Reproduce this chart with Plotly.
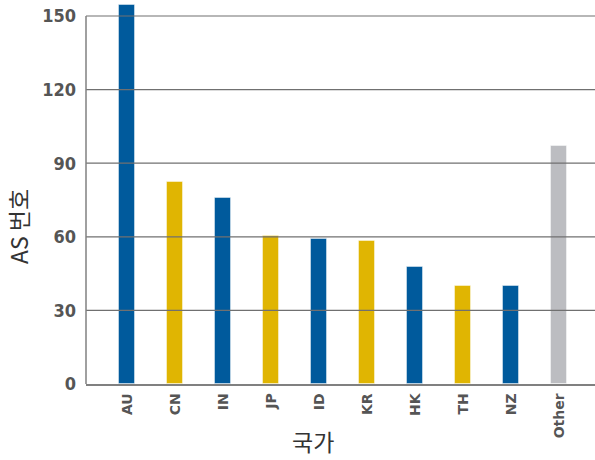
import plotly.graph_objects as go

categories = ["AU", "CN", "IN", "JP", "ID", "KR", "HK", "TH", "NZ", "Other"]
values = [154.4, 82.3, 75.8, 60.2, 59.2, 58.1, 47.5, 40, 40, 97]
colors = ["#005A9C", "#E0B502", "#005A9C", "#E0B502", "#005A9C",
          "#E0B502", "#005A9C", "#E0B502", "#005A9C", "#BCBDC1"]
yticks = [0, 30, 60, 90, 120, 150]

W, H = 595, 460
L, B = 86, 76            # plot area left edge / bottom margin (px)
ZERO_Y = H - B           # pixel row of y=0
PX_PER_UNIT = 368 / 150  # pixels per data unit
YMAX = ZERO_Y / PX_PER_UNIT

fig = go.Figure()
fig.add_trace(go.Bar(
    x=categories, y=values,
    marker=dict(color=colors, line=dict(color="rgba(255,255,255,0.45)", width=1)),
    width=0.32, showlegend=False,
))

# gridlines drawn above the bars
for v in yticks[1:]:
    fig.add_shape(type="line", xref="paper", yref="y", x0=0, x1=1, y0=v, y1=v,
                  line=dict(color="#707070", width=1.2), layer="above")
# left axis line only up to the top tick
fig.add_shape(type="line", xref="paper", yref="y", x0=0, x1=0, y0=0, y1=yticks[-1],
              line=dict(color="#808080", width=1.5), layer="above")

fig.update_layout(
    width=W, height=H,
    margin=dict(l=L, r=0, t=0, b=B, autoexpand=False),
    plot_bgcolor="white", paper_bgcolor="white",
    bargap=0,
    xaxis=dict(
        range=[-0.854, 9.75], showgrid=False, automargin=False,
        showline=True, linecolor="#808080", linewidth=1.5,
        tickangle=-90, ticks="", ticklabelstandoff=2,
        tickfont=dict(family="DejaVu Sans", size=14, color="#555555", weight="bold"),
    ),
    yaxis=dict(
        range=[0, YMAX], tickvals=yticks, showgrid=False, automargin=False,
        showline=False, ticks="", ticklabelstandoff=9,
        tickfont=dict(family="Liberation Sans Narrow, DejaVu Sans Condensed", size=18,
                      color="#555555", weight="bold"),
        zeroline=False,
    ),
)

pw, ph = W - L, H - B
fig.add_annotation(text="AS 번호", x=(18 - L) / pw, y=(ZERO_Y - 227) / ph,
                   xref="paper", yref="paper", showarrow=False, textangle=-90,
                   xanchor="center", yanchor="middle",
                   font=dict(family="Noto Sans CJK KR", size=23, color="#333333"))
fig.add_annotation(text="국가", x=(313 - L) / pw, y=(ZERO_Y - 441) / ph,
                   xref="paper", yref="paper", showarrow=False,
                   xanchor="center", yanchor="middle",
                   font=dict(family="Noto Sans CJK KR", size=23, color="#333333"))

fig.write_html("out.html", config={"displayModeBar": False},
               post_script="document.body.style.margin='0';document.body.style.overflow='hidden';")
